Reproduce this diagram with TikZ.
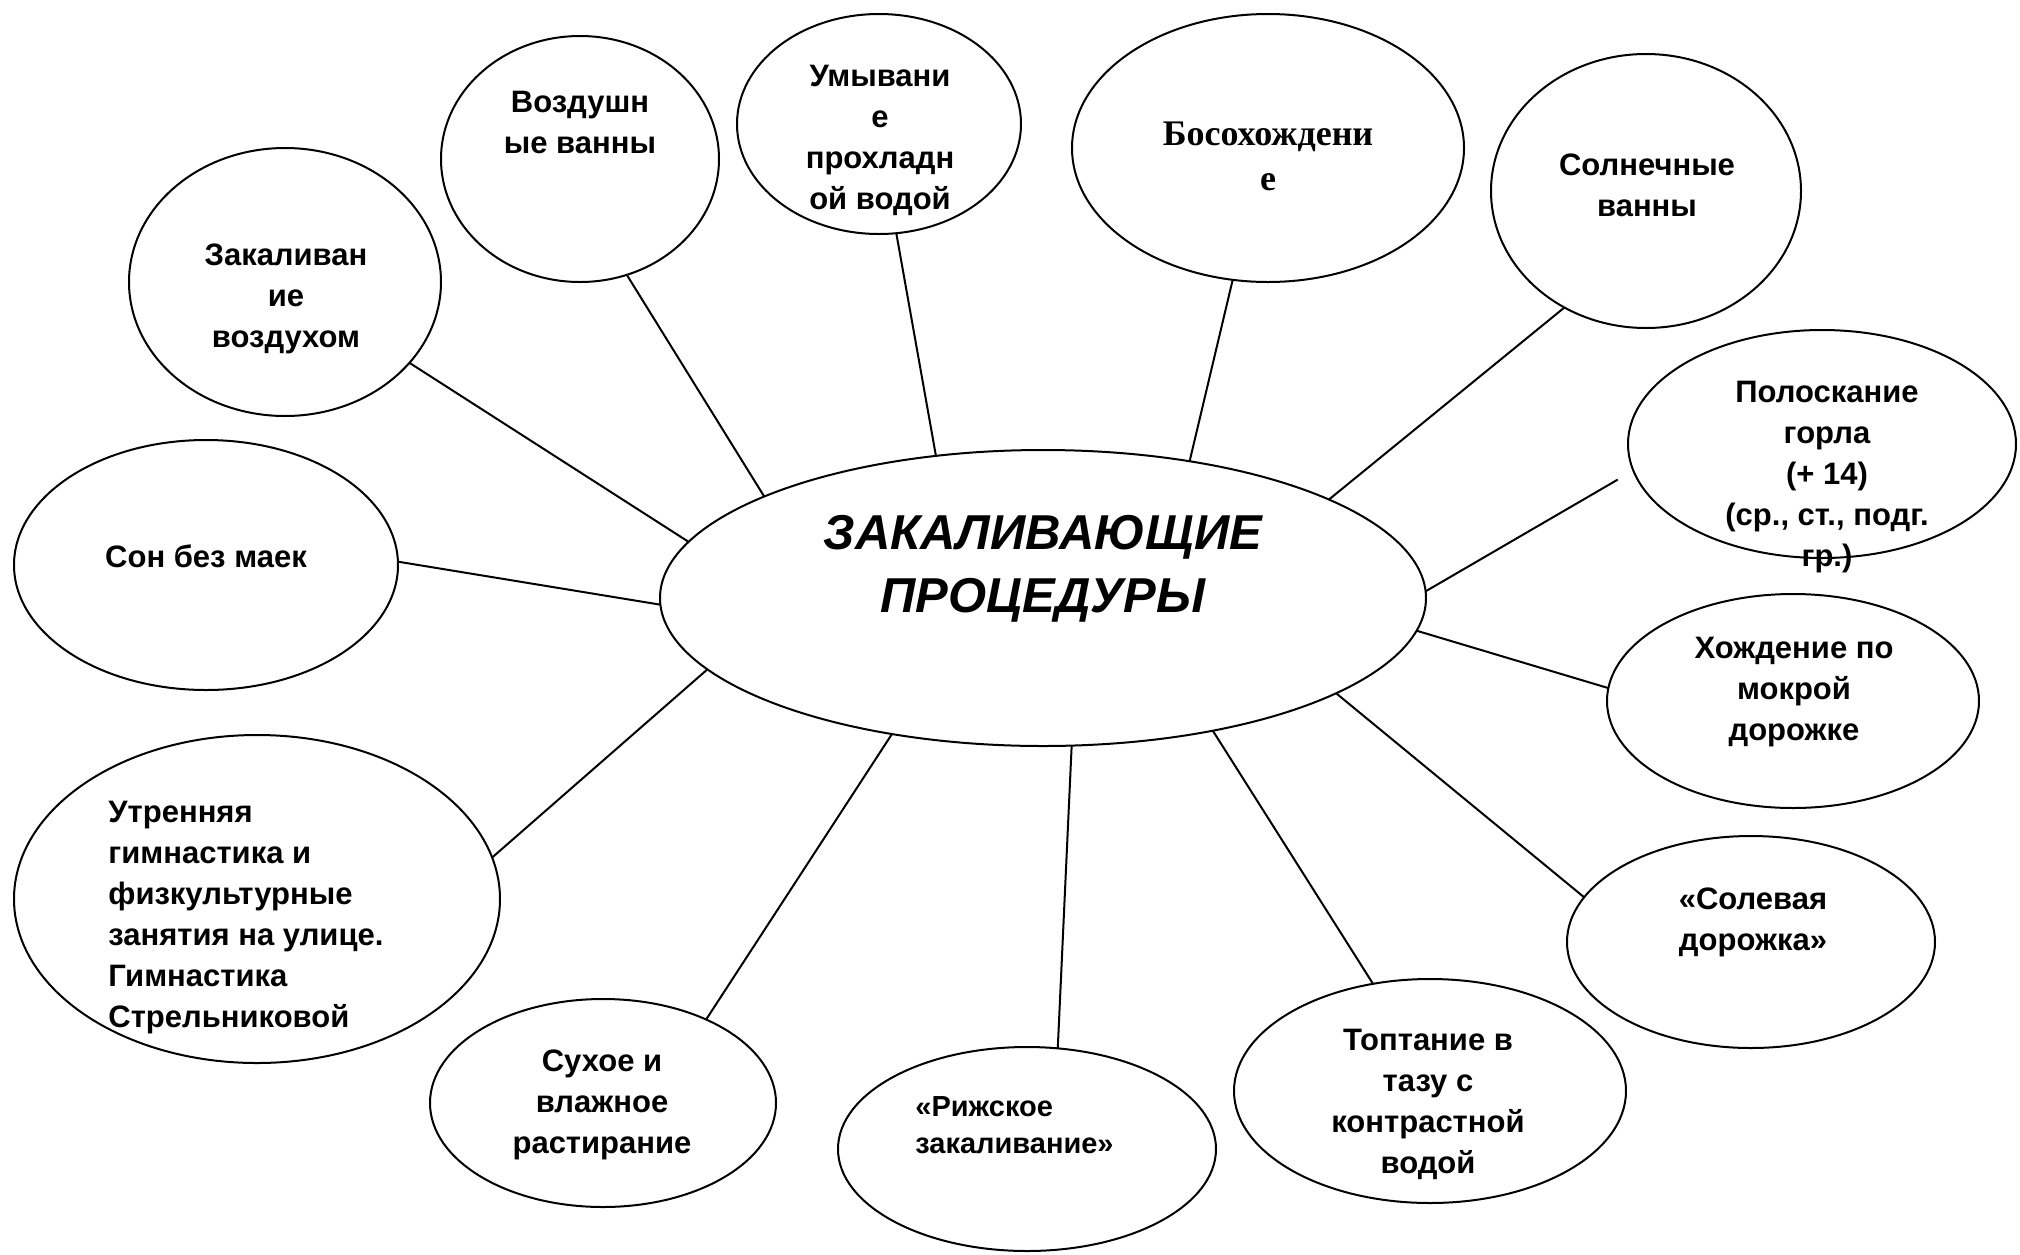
\documentclass[tikz,border=0pt]{standalone}
\usepackage{fontspec}
\setmainfont{Liberation Sans}
\newfontfamily\serifb{Liberation Serif}
\usetikzlibrary{shapes.geometric}
\tikzset{
  bub/.style={draw, ellipse, line width=1pt, inner sep=0pt, outer sep=0pt},
  conn/.style={line width=1pt},
  lbl/.style={align=center, inner sep=0pt, font=\fontsize{15.5}{20.5}\selectfont\bfseries},
  lbll/.style={align=left, inner sep=0pt, font=\fontsize{15.5}{20.5}\selectfont\bfseries},
}
\begin{document}
\begin{tikzpicture}[x=0.5pt,y=-0.5pt]
\useasboundingbox (0,0) rectangle (2020,1254);
% ellipses
\node[bub, minimum width=383pt, minimum height=148pt] (c) at (1043,598) {};
\node[bub, minimum width=156pt, minimum height=134pt] (e1) at (285,282) {};
\node[bub, minimum width=139pt, minimum height=123pt] (e2) at (580,159) {};
\node[bub, minimum width=142pt, minimum height=110pt] (e3) at (879,124) {};
\node[bub, minimum width=196pt, minimum height=134pt] (e4) at (1268,148) {};
\node[bub, minimum width=155pt, minimum height=137pt] (e5) at (1646,191) {};
\node[bub, minimum width=194pt, minimum height=114pt] (e6) at (1822,444) {};
\node[bub, minimum width=186pt, minimum height=107pt] (e7) at (1793,701) {};
\node[bub, minimum width=184pt, minimum height=106pt] (e8) at (1751,942) {};
\node[bub, minimum width=196pt, minimum height=112pt] (e9) at (1430,1091) {};
\node[bub, minimum width=189pt, minimum height=102pt] (e10) at (1027,1149) {};
\node[bub, minimum width=173pt, minimum height=104pt] (e11) at (603,1103) {};
\node[bub, minimum width=243pt, minimum height=164pt] (e12) at (257,899) {};
\node[bub, minimum width=192pt, minimum height=125pt] (e13) at (206,565) {};
% texts
\node[align=center, inner sep=0pt, font=\fontsize{24.5}{31.5}\selectfont\bfseries\itshape] (tc) at (1043,569) {ЗАКАЛИВАЮЩИЕ\\ПРОЦЕДУРЫ};
\node[lbl] (t1) at (286,299) {Закаливан\\ие\\воздухом};
\node[lbl] (t2) at (580,122) {Воздушн\\ые ванны};
\node[lbl] (t3) at (880,140) {Умывани\\е\\прохладн\\ой водой};
\node[align=center, inner sep=0pt, font=\fontsize{18}{22.5}\selectfont\serifb\bfseries] (t4) at (1268,156) {Босохождени\\е};
\node[lbl] (t5) at (1647,185) {Солнечные\\ванны};
\node[lbl] (t6) at (1827,477) {Полоскание\\горла\\(+ 14)\\(ср., ст., подг.\\гр.)};
\node[lbl] (t7) at (1794,692) {Хождение по\\мокрой\\дорожке};
\node[lbl] (t8) at (1753,922) {«Солевая\\дорожка»};
\node[lbl] (t9) at (1428,1104) {Топтание в\\тазу с\\контрастной\\водой};
\node[align=left, inner sep=0pt, font=\fontsize{14.5}{18.5}\selectfont\bfseries, anchor=west] (t10) at (915,1125) {«Рижское\\закаливание»};
\node[lbl] (t11) at (602,1105) {Сухое и\\влажное\\растирание};
\node[lbll, anchor=west] (t12) at (108,918) {Утренняя\\гимнастика и\\физкультурные\\занятия на улице.\\Гимнастика\\Стрельниковой};
\node[lbl] (t13) at (206,556) {Сон без маек};
% connectors
\draw[conn] (c.171.8) -- (e1.-33.9);
\draw[conn] (c.160.5) -- (e2.-68.4);
\draw[conn] (c.127.4) -- (e3.-81.4);
\draw[conn] (c.43.4) -- (e4.-105);
\draw[conn] (c.19.4) -- (e5.-125);
\draw[conn, shorten >=9pt] (c.1.9) -- (e6.188.4);
\draw[conn] (c.-5.4) -- (e7.176.3);
\draw[conn] (c.-18.3) -- (e8.165.6);
\draw[conn] (c.-38) -- (e9.118.5);
\draw[conn] (c.-79.4) -- (e10.73.6);
\draw[conn] (c.-138.2) -- (e11.39.7);
\draw[conn] (c.-168) -- (e12.10.1);
\draw[conn] (c.-179.5) -- (e13.1.2);
\end{tikzpicture}
\end{document}
